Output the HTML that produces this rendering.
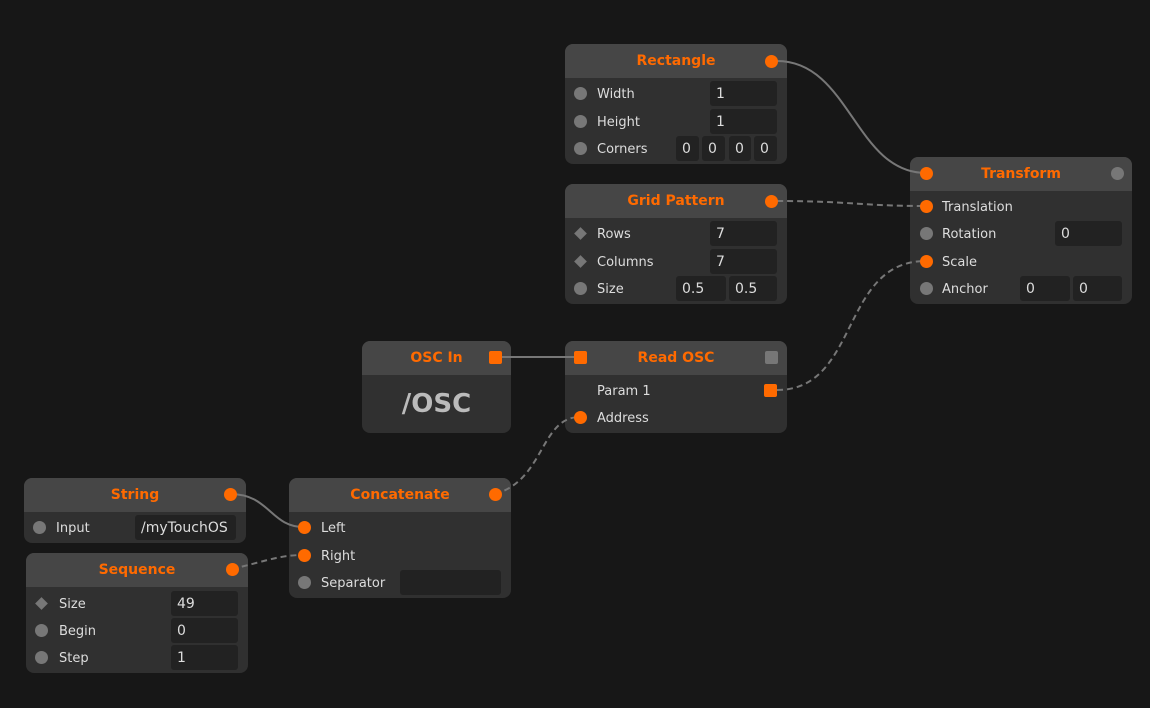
<!DOCTYPE html>
<html><head><meta charset="utf-8"><style>
body{margin:0;width:1150px;height:708px;background:#171717;position:relative;overflow:hidden;font-family:"DejaVu Sans","Liberation Sans",sans-serif}
.n{position:absolute;background:#303030;border-radius:8px;overflow:hidden;z-index:0}
.h{position:absolute;left:0;right:0;top:0;height:34px;background:#464646;color:#ff6a00;font-weight:bold;font-size:14px;text-align:center;line-height:34px}
.d{position:absolute;width:13px;height:13px;border-radius:50%;background:#777;z-index:2}
.o{background:#ff6a00}
.s{position:absolute;width:13px;height:13px;border-radius:2px;background:#ff6a00;z-index:2}
.dm{position:absolute;width:9px;height:9px;background:#777;transform:rotate(45deg);z-index:2}
.l{position:absolute;color:#ddd;font-size:13px;line-height:18px;z-index:2;margin-top:2px}
.f{position:absolute;height:25px;background:#222;border-radius:3px;color:#ddd;font-size:14px;line-height:26px;padding-left:6px;box-sizing:border-box;z-index:2}
svg{z-index:1}
</style></head><body>
<svg width="1150" height="708" style="position:absolute;left:0;top:0" fill="none" stroke="#777" stroke-width="2">
<path d="M777,61 C850,61 855,173 926,173"/>
<path d="M777,201 C850,201 860,206 926,206" stroke-dasharray="6,4"/>
<path d="M777,390 C860,390 840,261 926,261" stroke-dasharray="6,4"/>
<path d="M495,357 L580,357"/>
<path d="M495,494 C545,480 540,417 580,417" stroke-dasharray="6,4"/>
<path d="M230,494 C270,494 270,527 304,527"/>
<path d="M232,569 C270,560 280,555 304,555" stroke-dasharray="6,4"/>
</svg>

<!-- Rectangle -->
<div class="n" style="left:565px;top:44px;width:222px;height:120px"><div class="h">Rectangle</div></div>
<div class="d o" style="left:765px;top:55px"></div>
<div class="d" style="left:574px;top:87px"></div><div class="l" style="left:597px;top:84px">Width</div>
<div class="d" style="left:574px;top:115px"></div><div class="l" style="left:597px;top:112px">Height</div>
<div class="d" style="left:574px;top:142px"></div><div class="l" style="left:597px;top:139px">Corners</div>
<div class="f" style="left:710px;top:81px;width:67px">1</div>
<div class="f" style="left:710px;top:109px;width:67px">1</div>
<div class="f" style="left:676px;top:136px;width:23px">0</div>
<div class="f" style="left:702px;top:136px;width:23px">0</div>
<div class="f" style="left:729px;top:136px;width:22px">0</div>
<div class="f" style="left:754px;top:136px;width:23px">0</div>

<!-- Grid Pattern -->
<div class="n" style="left:565px;top:184px;width:222px;height:120px"><div class="h">Grid Pattern</div></div>
<div class="d o" style="left:765px;top:195px"></div>
<div class="dm" style="left:576px;top:229px"></div><div class="l" style="left:597px;top:224px">Rows</div>
<div class="dm" style="left:576px;top:257px"></div><div class="l" style="left:597px;top:252px">Columns</div>
<div class="d" style="left:574px;top:282px"></div><div class="l" style="left:597px;top:279px">Size</div>
<div class="f" style="left:710px;top:221px;width:67px">7</div>
<div class="f" style="left:710px;top:249px;width:67px">7</div>
<div class="f" style="left:676px;top:276px;width:50px">0.5</div>
<div class="f" style="left:729px;top:276px;width:48px">0.5</div>

<!-- Transform -->
<div class="n" style="left:910px;top:157px;width:222px;height:147px"><div class="h">Transform</div></div>
<div class="d o" style="left:920px;top:167px"></div>
<div class="d" style="left:1111px;top:167px"></div>
<div class="d o" style="left:920px;top:200px"></div><div class="l" style="left:942px;top:197px">Translation</div>
<div class="d" style="left:920px;top:227px"></div><div class="l" style="left:942px;top:224px">Rotation</div>
<div class="d o" style="left:920px;top:255px"></div><div class="l" style="left:942px;top:252px">Scale</div>
<div class="d" style="left:920px;top:282px"></div><div class="l" style="left:942px;top:279px">Anchor</div>
<div class="f" style="left:1055px;top:221px;width:67px">0</div>
<div class="f" style="left:1020px;top:276px;width:50px">0</div>
<div class="f" style="left:1073px;top:276px;width:49px">0</div>

<!-- OSC In -->
<div class="n" style="left:362px;top:341px;width:149px;height:92px"><div class="h">OSC In</div>
<div style="position:absolute;left:0;right:0;top:48px;text-align:center;color:#bbb;font-weight:bold;font-size:26px">/OSC</div></div>
<div class="s" style="left:489px;top:351px"></div>

<!-- Read OSC -->
<div class="n" style="left:565px;top:341px;width:222px;height:92px"><div class="h">Read OSC</div></div>
<div class="s" style="left:574px;top:351px"></div>
<div class="s" style="left:765px;top:351px;background:#777"></div>
<div class="l" style="left:597px;top:381px">Param 1</div>
<div class="s" style="left:764px;top:384px"></div>
<div class="d o" style="left:574px;top:411px"></div><div class="l" style="left:597px;top:408px">Address</div>

<!-- String -->
<div class="n" style="left:24px;top:478px;width:222px;height:65px"><div class="h">String</div></div>
<div class="d o" style="left:224px;top:488px"></div>
<div class="d" style="left:33px;top:521px"></div><div class="l" style="left:56px;top:518px">Input</div>
<div class="f" style="left:135px;top:515px;width:101px">/myTouchOS</div>

<!-- Concatenate -->
<div class="n" style="left:289px;top:478px;width:222px;height:120px"><div class="h">Concatenate</div></div>
<div class="d o" style="left:489px;top:488px"></div>
<div class="d o" style="left:298px;top:521px"></div><div class="l" style="left:321px;top:518px">Left</div>
<div class="d o" style="left:298px;top:549px"></div><div class="l" style="left:321px;top:546px">Right</div>
<div class="d" style="left:298px;top:576px"></div><div class="l" style="left:321px;top:573px">Separator</div>
<div class="f" style="left:400px;top:570px;width:101px"></div>

<!-- Sequence -->
<div class="n" style="left:26px;top:553px;width:222px;height:120px"><div class="h">Sequence</div></div>
<div class="d o" style="left:226px;top:563px"></div>
<div class="dm" style="left:37px;top:599px"></div><div class="l" style="left:59px;top:594px">Size</div>
<div class="d" style="left:35px;top:624px"></div><div class="l" style="left:59px;top:621px">Begin</div>
<div class="d" style="left:35px;top:651px"></div><div class="l" style="left:59px;top:648px">Step</div>
<div class="f" style="left:171px;top:591px;width:67px">49</div>
<div class="f" style="left:171px;top:618px;width:67px">0</div>
<div class="f" style="left:171px;top:645px;width:67px">1</div>
</body></html>
